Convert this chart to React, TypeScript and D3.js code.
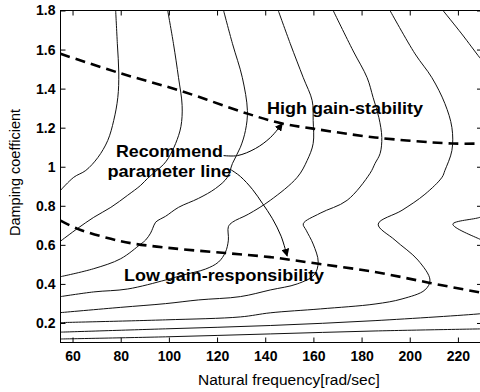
import { useEffect, useRef } from 'react';
import * as d3 from 'd3';

type Pt = [number, number];

// axis ticks
const xTicks = [60, 80, 100, 120, 140, 160, 180, 200, 220];
const yTicks = [0.2, 0.4, 0.6, 0.8, 1, 1.2, 1.4, 1.6, 1.8];

// contour lines [natural frequency, damping coefficient]
const contour1: Pt[] = [[77.9, 1.8], [78.6, 1.63], [79.2, 1.48], [78.8, 1.355], [77.1, 1.237], [74.6, 1.134], [70.5, 1.047], [65.5, 0.981], [60.5, 0.946], [55, 0.879]];
const contour2: Pt[] = [[99.5, 1.8], [101.9, 1.63], [104, 1.456], [105.5, 1.313], [105, 1.206], [102.8, 1.119], [99.9, 1.047], [97.8, 1.012], [94.5, 0.976], [91.2, 0.941], [88.3, 0.905], [82.9, 0.854], [75.9, 0.792], [68.8, 0.741], [62.2, 0.685], [55, 0.619]];
const contour3: Pt[] = [[122.7, 1.8], [126.4, 1.63], [130.5, 1.456], [132.6, 1.288], [131.8, 1.186], [129.7, 1.1], [126.4, 1.017], [124.3, 0.946], [119.4, 0.889], [112.3, 0.838], [104, 0.792], [98.6, 0.746], [96.6, 0.733], [94.5, 0.716], [93.3, 0.685], [92.4, 0.66], [90.3, 0.624], [88.3, 0.604], [80, 0.529], [68.8, 0.478], [55, 0.437]];
const contour4: Pt[] = [[145.4, 1.8], [150.4, 1.63], [155.8, 1.456], [159.5, 1.338], [159.9, 1.237], [159.9, 1.119], [157.4, 1.032], [153.3, 0.946], [142.1, 0.828], [133, 0.757], [126.4, 0.716], [124.7, 0.693], [124.7, 0.624], [123.5, 0.563], [120.6, 0.512], [115.2, 0.476], [105.7, 0.445], [98.6, 0.42], [82.9, 0.374], [68.8, 0.359], [55, 0.335]];
const contour5: Pt[] = [[168.2, 1.8], [176.5, 1.593], [182.3, 1.456], [184.8, 1.354], [187.2, 1.251], [188.4, 1.15], [187.7, 1.068], [185.6, 1.017], [183.5, 0.966], [174, 0.828], [162.8, 0.762], [155.8, 0.708], [157, 0.675], [159.9, 0.604], [162, 0.512], [160.3, 0.446], [153.3, 0.4], [142.1, 0.369], [129.7, 0.335], [112.3, 0.318], [98.6, 0.299], [80, 0.28], [55, 0.253]];
const contour6: Pt[] = [[191.8, 1.8], [202.2, 1.578], [209.2, 1.456], [214.6, 1.323], [217.5, 1.201], [217.5, 1.083], [214.6, 0.981], [213.4, 0.946], [206.3, 0.859], [196.8, 0.777], [186.9, 0.706], [193.9, 0.624], [203.4, 0.522], [208.4, 0.42], [206.3, 0.369], [196.8, 0.323], [185.6, 0.297], [162.9, 0.272], [142.1, 0.252], [129.7, 0.231], [98.6, 0.216], [55, 0.202]];
const contour7Top: Pt[] = [[213.8, 1.8], [221.6, 1.68], [229.1, 1.558], [231, 1.53]];
const contour7Mid: Pt[] = [[231, 0.755], [229.1, 0.741], [217.9, 0.706], [229.1, 0.629], [231, 0.62]];
const contour7Low: Pt[] = [[55, 0.153], [98.6, 0.17], [142.1, 0.187], [185.6, 0.212], [229.1, 0.247], [231, 0.25]];
const contour8: Pt[] = [[55, 0.118], [98.6, 0.129], [142.1, 0.144], [185.6, 0.159], [231, 0.17]];

const contours = [contour1, contour2, contour3, contour4, contour5, contour6, contour7Top, contour7Mid, contour7Low, contour8];

// dashed boundaries
const highGainLine: Pt[] = [[55, 1.578], [79.2, 1.481], [104.8, 1.389], [132.6, 1.272], [147.1, 1.221], [159.9, 1.195], [185.6, 1.15], [217.5, 1.119], [231, 1.119]];
const lowGainLine: Pt[] = [[55, 0.724], [62.1, 0.682], [75.9, 0.631], [85, 0.607], [95, 0.591], [105, 0.578], [123.5, 0.558], [142.1, 0.537], [162.1, 0.503], [185.6, 0.461], [208.4, 0.405], [231, 0.352]];

// annotation arrows
const arrowUp: Pt[] = [[122.7, 1.057], [128.5, 1.057], [135.9, 1.093], [142.1, 1.149], [147.1, 1.221]];
const arrowDown: Pt[] = [[125.6, 0.986], [129.7, 0.95], [134.7, 0.884], [138.8, 0.813], [142.9, 0.736], [146.6, 0.644], [149.1, 0.543]];

const labelText = ['High gain-stability', 'Recommend', 'parameter line', 'Low gain-responsibility'];
const labelPos: Pt[] = [[140.7, 1.27], [78, 1.049], [74.5, 0.947], [81.4, 0.416]];
const labelLen = [156, 107, 124, 200];

export default function App() {
  const svgRef = useRef<SVGSVGElement>(null);
  const width = 480;
  const height = 392;
  const margin = { top: 10.5, left: 60.5, right: -2, bottom: 49.5 };

  useEffect(() => {
    if (!svgRef.current) return;
    const innerW = width - margin.left - margin.right;
    const innerH = height - margin.top - margin.bottom;

    const x = d3.scaleLinear().domain([55, 230]).range([0, innerW]);
    const y = d3.scaleLinear().domain([0.1, 1.8]).range([innerH, 0]);

    const svg = d3.select(svgRef.current);
    svg.selectAll('*').remove();

    const defs = svg.append('defs');
    defs.append('clipPath').attr('id', 'plot-clip')
      .append('rect').attr('width', innerW).attr('height', innerH);
    defs.append('marker')
      .attr('id', 'arrowhead')
      .attr('viewBox', '0 0 10 10')
      .attr('refX', 9).attr('refY', 5)
      .attr('markerWidth', 8).attr('markerHeight', 8)
      .attr('markerUnits', 'userSpaceOnUse')
      .attr('orient', 'auto')
      .append('path').attr('d', 'M0,0 L10,5 L0,10 z').attr('fill', '#000');

    const g = svg.append('g').attr('transform', `translate(${margin.left},${margin.top})`);
    const plot = g.append('g').attr('clip-path', 'url(#plot-clip)');

    const smooth = d3.line<Pt>().x((d) => x(d[0])).y((d) => y(d[1])).curve(d3.curveCatmullRom.alpha(0.5));

    contours.forEach((c) => {
      plot.append('path').datum(c)
        .attr('fill', 'none').attr('stroke', '#111').attr('stroke-width', 1)
        .attr('d', smooth);
    });

    [highGainLine, lowGainLine].forEach((c) => {
      plot.append('path').datum(c)
        .attr('fill', 'none').attr('stroke', '#000').attr('stroke-width', 2.6)
        .attr('stroke-dasharray', '10,6')
        .attr('d', smooth);
    });

    [arrowUp, arrowDown].forEach((c) => {
      plot.append('path').datum(c)
        .attr('fill', 'none').attr('stroke', '#000').attr('stroke-width', 1)
        .attr('marker-end', 'url(#arrowhead)')
        .attr('d', smooth);
    });

    labelText.forEach((t, i) => {
      g.append('text')
        .attr('x', x(labelPos[i][0])).attr('y', y(labelPos[i][1]))
        .attr('font-family', 'Liberation Sans, Arial, sans-serif')
        .attr('font-size', 16.5).attr('font-weight', 700)
        .attr('textLength', labelLen[i]).attr('lengthAdjust', 'spacingAndGlyphs')
        .attr('fill', '#000')
        .text(t);
    });

    const styleAxis = (ax: d3.Selection<SVGGElement, unknown, null, undefined>) => {
      ax.select('.domain').remove();
      ax.selectAll('line').attr('stroke', '#000');
      ax.selectAll('text')
        .attr('fill', '#000')
        .attr('font-family', 'Liberation Sans, Arial, sans-serif')
        .attr('font-size', 14).attr('font-weight', 700);
    };

    g.append('g').attr('transform', `translate(0,${innerH})`)
      .call(d3.axisBottom(x).tickValues(xTicks).tickSizeInner(-5).tickSizeOuter(0).tickPadding(9))
      .call(styleAxis);
    g.append('g')
      .call(d3.axisTop(x).tickValues(xTicks).tickSizeInner(-5).tickSizeOuter(0).tickFormat(() => ''))
      .call(styleAxis);
    g.append('g')
      .call(d3.axisLeft(y).tickValues(yTicks).tickSizeInner(-5).tickSizeOuter(0).tickPadding(5).tickFormat((d) => `${d}`))
      .call(styleAxis);
    g.append('g').attr('transform', `translate(${innerW},0)`)
      .call(d3.axisRight(y).tickValues(yTicks).tickSizeInner(-5).tickSizeOuter(0).tickFormat(() => ''))
      .call(styleAxis);

    g.append('rect')
      .attr('width', innerW).attr('height', innerH)
      .attr('fill', 'none').attr('stroke', '#000').attr('stroke-width', 1);

    svg.append('text')
      .attr('x', 198).attr('y', 385)
      .attr('font-family', 'Liberation Sans, Arial, sans-serif')
      .attr('font-size', 15.5)
      .attr('fill', '#000')
      .text('Natural frequency[rad/sec]');

    svg.append('text')
      .attr('transform', `translate(20,${margin.top + innerH / 2 - 4}) rotate(-90)`)
      .attr('text-anchor', 'middle')
      .attr('font-family', 'Liberation Sans, Arial, sans-serif')
      .attr('font-size', 14.5)
      .attr('fill', '#000')
      .text('Damping coefficient');
  }, []);

  return (
    <div style={{ position: 'absolute', left: 0, top: 0 }}>
      <svg ref={svgRef} width={width} height={height} style={{ display: 'block', background: '#fff' }} />
    </div>
  );
}
